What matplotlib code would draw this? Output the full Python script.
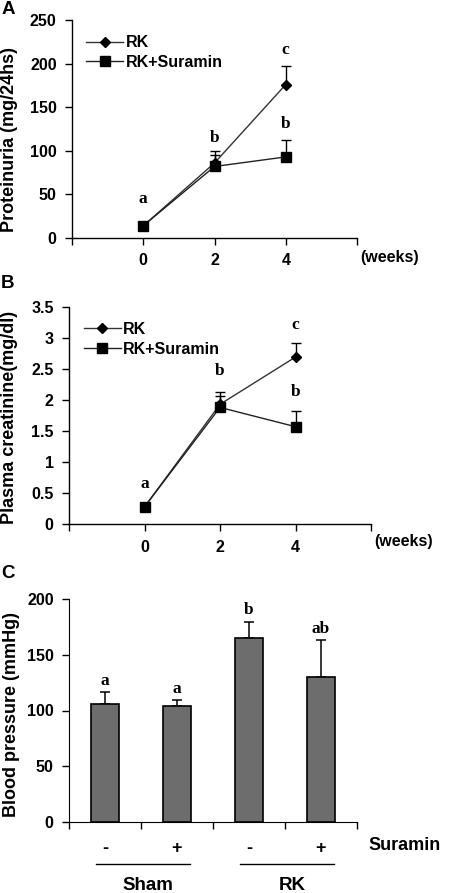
import numpy as np
import matplotlib
matplotlib.use('Agg')
from matplotlib import pyplot as plt
from matplotlib import transforms

plt.rcParams['font.family'] = ['Liberation Sans', 'DejaVu Sans']
plt.rcParams['font.weight'] = 'bold'
plt.rcParams['axes.labelweight'] = 'bold'
plt.rcParams['font.size'] = 11.5

# panel A: proteinuria
weeks = [0, 2, 4]
prot_rk = [14, 86, 176]
prot_rk_err = [0, 14, 21]
prot_sur = [14, 82, 93]
prot_sur_err = [0, 13, 19]
prot_letters = ['a', 'b', 'c']
prot_letter_y = [36, 106, 206]
prot_sur_letter = 'b'
prot_sur_letter_y = 121

# panel B: plasma creatinine
crea_rk = [0.28, 1.93, 2.69]
crea_rk_err = [0, 0.20, 0.22]
crea_sur = [0.28, 1.88, 1.57]
crea_sur_err = [0, 0.18, 0.25]
crea_letters = ['a', 'b', 'c']
crea_letter_y = [0.52, 2.33, 3.07]
crea_sur_letter = 'b'
crea_sur_letter_y = 2.0

# panel C: blood pressure
bp_groups = ['Sham', 'RK']
bp_suramin = ['-', '+', '-', '+']
bp_values = [106, 104, 165, 130]
bp_err = [10.5, 5, 15, 33]
bp_letters = ['a', 'a', 'b', 'ab']

W, H = 450, 893
fig = plt.figure(figsize=(W / 100, H / 100), dpi=100)


def axes_px(left, right, top, bottom):
    return fig.add_axes([left / W, 1 - bottom / H, (right - left) / W, (bottom - top) / H])


serif = dict(family=['Liberation Serif', 'DejaVu Serif'], weight='bold', fontsize=12.5)
err_kw = dict(fmt='none', ecolor='black', elinewidth=1.0, capsize=3.5, capthick=1.0)


def line_panel(ax, rk, rk_err, sur, sur_err, ymax, ystep, ylabel, letters, letter_y,
               sur_letter, sur_letter_y, weeks_y):
    ax.errorbar(weeks, rk, yerr=[np.zeros(3), rk_err], zorder=2, **err_kw)
    ax.errorbar(weeks, sur, yerr=[np.zeros(3), sur_err], zorder=2, **err_kw)
    ax.plot(weeks, rk, color='#333333', lw=1.0, marker='D', ms=5, mfc='black',
            mec='black', label='RK', zorder=3)
    ax.plot(weeks, sur, color='#222222', lw=1.0, marker='s', ms=7, mfc='black',
            mec='black', label='RK+Suramin', zorder=3)
    for x, t, y in zip(weeks, letters, letter_y):
        ax.text(x, y, t, ha='center', va='bottom', **serif)
    ax.text(weeks[-1], sur_letter_y, sur_letter, ha='center', va='bottom', **serif)
    ax.set_xlim(-2, 6)
    ax.set_ylim(0, ymax)
    ax.set_xticks([-2, 0, 2, 4, 6])
    ax.set_xticklabels(['', '0', '2', '4', ''])
    ticks = np.arange(0, ymax + ystep / 2, ystep)
    ax.set_yticks(ticks)
    ax.set_yticklabels([f'{v:g}' for v in ticks])
    ax.tick_params(axis='x', direction='out', length=5, width=1, pad=6)
    ax.tick_params(axis='y', direction='out', length=5, width=1, pad=6)
    for s in ['top', 'right']:
        ax.spines[s].set_visible(False)
    for s in ['left', 'bottom']:
        ax.spines[s].set_linewidth(1.0)
    ax.set_ylabel(ylabel, fontsize=13)
    ax.text(1.01, weeks_y, '(weeks)', transform=ax.transAxes, ha='left', va='center')
    ax.legend(loc='upper left', bbox_to_anchor=(0.05, 0.93), frameon=False,
              handlelength=2.3, handletextpad=0.15, labelspacing=0.3,
              borderaxespad=0, borderpad=0)


axA = axes_px(72, 357, 20, 238)
line_panel(axA, prot_rk, prot_rk_err, prot_sur, prot_sur_err, 250, 50,
           'Proteinuria (mg/24hs)', prot_letters, prot_letter_y,
           prot_sur_letter, prot_sur_letter_y, -0.09)
axA.yaxis.set_label_coords(-0.19, 0.45)

axB = axes_px(69, 371, 306.7, 524.3)
line_panel(axB, crea_rk, crea_rk_err, crea_sur, crea_sur_err, 3.5, 0.5,
           'Plasma creatinine(mg/dl)', crea_letters, crea_letter_y,
           crea_sur_letter, crea_sur_letter_y, -0.08)
axB.yaxis.set_label_coords(-0.17, 0.49)

# panel C bars
axC = axes_px(69, 357, 599.3, 821.7)
xc = np.arange(len(bp_values))
axC.bar(xc, bp_values, width=0.4, color='#6d6d6d', edgecolor='black', linewidth=1.2, zorder=2)
axC.errorbar(xc, bp_values, yerr=[np.zeros(len(bp_err)), bp_err], fmt='none', ecolor='black',
             elinewidth=1.1, capsize=3.5, capthick=1.1, zorder=1)
for x, v, e, t in zip(xc, bp_values, bp_err, bp_letters):
    axC.text(x, v + e + 3, t, ha='center', va='bottom', **serif)
axC.set_xlim(-0.5, 3.5)
axC.set_ylim(0, 200)
axC.set_yticks(np.arange(0, 201, 50))
axC.set_xticks(xc)
axC.set_xticklabels(bp_suramin, fontsize=13)
axC.set_xticks(np.arange(-0.5, 3.6, 1), minor=True)
axC.tick_params(axis='x', which='major', length=0, pad=13)
axC.tick_params(axis='x', which='minor', direction='out', length=5, width=1)
axC.tick_params(axis='y', direction='out', length=5, width=1, pad=6)
for s in ['top', 'right']:
    axC.spines[s].set_visible(False)
axC.set_ylabel('Blood pressure (mmHg)', fontsize=13)
axC.yaxis.set_label_coords(-0.17, 0.48)

trans = transforms.blended_transform_factory(axC.transData, axC.transAxes)
axC.text(1.04, -0.105, 'Suramin', transform=axC.transAxes, ha='left', va='center', fontsize=13)
for g, name in enumerate(bp_groups):
    members = xc[2 * g:2 * g + 2]
    c = members.mean()
    axC.plot([c - 0.62, c + 0.68], [-0.19, -0.19], color='black', lw=1.0,
             transform=trans, clip_on=False)
    axC.text(c + 0.1, -0.285, name, transform=trans, ha='center', va='center', fontsize=13.5)

# panel letters
for lbl, y in [('A', 10), ('B', 283), ('C', 573)]:
    fig.text(8 / W, 1 - y / H, lbl, ha='center', va='center', fontsize=13.5)

fig.savefig('out.png', dpi=100)
